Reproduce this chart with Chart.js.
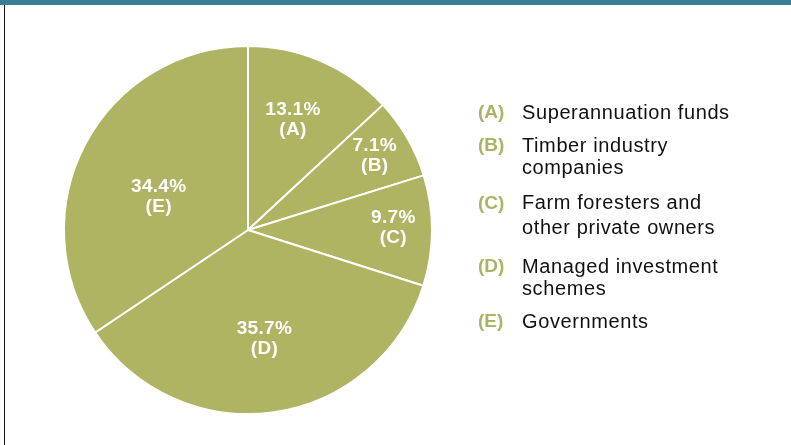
<!DOCTYPE html>
<html>
<head>
<meta charset="utf-8">
<script src="https://cdn.jsdelivr.net/npm/chart.js@4"></script>
<style>
  html, body { margin: 0; padding: 0; background: #fff; }
  #wrap { position: relative; width: 791px; height: 445px; overflow: hidden; }
  #topBar { position: absolute; left: 0; top: 0; width: 791px; height: 5px; background: #3a7d96; }
  #leftRule { position: absolute; left: 4px; top: 5px; width: 1px; height: 440px; background: #111; }
  #pie { position: absolute; left: 0; top: 0; }
  .item { position: absolute; left: 478px; font-family: "Liberation Sans", Arial, sans-serif; font-size: 20px; line-height: 22px; color: #111; }
  .item .code { position: absolute; left: 0; top: 0; font-size: 19px; font-weight: bold; color: #adb364; }
  .item .name { position: absolute; left: 44px; top: 0; white-space: nowrap; letter-spacing: 0.6px; }
</style>
</head>
<body>
<div id="wrap">
  <div id="topBar"></div>
  <div id="leftRule"></div>
  <canvas id="pie" width="791" height="445"></canvas>
  <div id="legend"></div>
</div>
<script>
const codes = ["A", "B", "C", "D", "E"];
const owners = [
  ["Superannuation funds"],
  ["Timber industry", "companies"],
  ["Farm foresters and", "other private owners"],
  ["Managed investment", "schemes"],
  ["Governments"]
];
const shares = [13.1, 7.1, 9.7, 35.7, 34.4];

// legend rows: top of each block and its line height
const legendTop = [101, 134, 190, 255, 310];
const legendLine = [22, 22, 25, 22, 22];

const legend = document.getElementById("legend");
codes.forEach((c, i) => {
  const row = document.createElement("div");
  row.className = "item";
  row.style.top = legendTop[i] + "px";
  row.style.lineHeight = legendLine[i] + "px";
  row.innerHTML =
    `<span class="code">(${c})</span><span class="name">${owners[i].join("<br>")}</span>`;
  legend.appendChild(row);
});

// where each slice label sits: fraction of radius and angle nudge (deg)
const labelRadius = [0.65, 0.80, 0.79, 0.59, 0.52];
const labelTurn = [-1.5, -0.5, -1.5, -0.6, -7];

const sliceLabels = {
  id: "sliceLabels",
  afterDatasetsDraw(chart) {
    const ctx = chart.ctx;
    const arcs = chart.getDatasetMeta(0).data;
    ctx.save();
    ctx.fillStyle = "#ffffff";
    ctx.font = "bold 19px 'Liberation Sans', Arial, sans-serif";
    ctx.letterSpacing = "0.3px";
    ctx.textAlign = "center";
    ctx.textBaseline = "middle";
    arcs.forEach((arc, i) => {
      const p = arc.getProps(["x", "y", "startAngle", "endAngle", "outerRadius"], true);
      const a = (p.startAngle + p.endAngle) / 2 + labelTurn[i] * Math.PI / 180;
      const r = p.outerRadius * labelRadius[i];
      const x = p.x + Math.cos(a) * r;
      const y = p.y + Math.sin(a) * r;
      ctx.fillText(shares[i].toFixed(1) + "%", x, y - 9);
      ctx.fillText("(" + codes[i] + ")", x, y + 11);
    });
    ctx.restore();
  }
};

new Chart(document.getElementById("pie"), {
  type: "pie",
  data: {
    labels: codes,
    datasets: [
      {
        data: shares,
        backgroundColor: "#afb463",
        borderColor: "#ffffff",
        borderWidth: 2
      }
    ]
  },
  options: {
    responsive: false,
    animation: false,
    layout: {
      padding: { left: 63, top: 45, right: 358, bottom: 30 }
    },
    plugins: {
      legend: { display: false },
      tooltip: { enabled: false }
    }
  },
  plugins: [sliceLabels]
});
</script>
</body>
</html>
